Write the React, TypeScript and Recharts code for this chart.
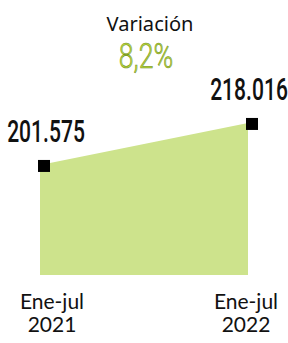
import { Area, AreaChart, XAxis, YAxis } from "recharts"

const periods = ["Ene-jul 2021", "Ene-jul 2022"]
const exports_ = [201575, 218016]
const valueLabels = ["201.575", "218.016"]
const variation = "8,2%"

const data = periods.map((p, i) => ({ period: p, value: exports_[i], label: valueLabels[i] }))

const FILL = "#cde38c"
const NUM_FONT = "Roboto, 'DejaVu Sans Condensed', sans-serif"

// black square marker, a bit off the corner like the print
const SquareDot = (props: any) => {
    const { cx, cy, index } = props
    if (cx == null || cy == null) return null
    return <rect key={`dot-${index}`} x={cx + 4 - 6} y={cy + 1 - 6} width={12} height={12} fill="#000" />
}

// condensed look: squeeze horizontally with a transform
const ValueLabel = (props: any) => {
    const { x, y, index } = props
    const cx = index === 0 ? x + 6 : x + 1
    return (
        <text
            transform={`translate(${cx},${y - 23}) scale(0.68,1)`}
            textAnchor="middle"
            fontFamily={NUM_FONT}
            fontWeight={500}
            fontSize={31}
            fill="#111"
        >
            {valueLabels[index]}
        </text>
    )
}

const PeriodTick = (props: any) => {
    const { x, y, payload, index } = props
    const [a, b] = String(payload.value).split(" ")
    const cx = index === 0 ? x + 12 : x - 2
    return (
        <g>
            <text x={cx} y={y + 26} textAnchor="middle" fontFamily="Lato, 'Open Sans', sans-serif" fontSize={21} fill="#111">
                {a}
            </text>
            <text x={cx} y={y + 49} textAnchor="middle" fontFamily="Lato, 'Open Sans', sans-serif" fontSize={21} fill="#111">
                {b}
            </text>
        </g>
    )
}

export default function App() {
    return (
        <div style={{ position: "absolute", left: 0, top: 0, width: 288, height: 343, background: "#fff" }}>
            <AreaChart width={288} height={343} data={data} margin={{ top: 100, right: 40, bottom: 0, left: 40 }}>
                <XAxis dataKey="period" axisLine={false} tickLine={false} tick={<PeriodTick />} interval={0} height={68} />
                <YAxis hide domain={[158500, 227000]} />
                <Area
                    type="linear"
                    dataKey="value"
                    stroke="none"
                    fill={FILL}
                    fillOpacity={1}
                    dot={<SquareDot />}
                    activeDot={false}
                    label={<ValueLabel />}
                    isAnimationActive={false}
                />
            </AreaChart>
            <svg width={288} height={80} style={{ position: "absolute", left: 0, top: 0 }}>
                <text x={150} y={31} textAnchor="middle" fontFamily="'Noto Sans', sans-serif" fontSize={20} fill="#111" textLength={87} lengthAdjust="spacingAndGlyphs">
                    Variación
                </text>
                <text
                    transform="translate(146,68) scale(0.74,1)"
                    textAnchor="middle"
                    fontFamily={NUM_FONT}
                    fontWeight={300}
                    fontSize={36}
                    fill="#b9d63c"
                    stroke="#6f8f1c"
                    strokeWidth={0.6}
                >
                    {variation}
                </text>
            </svg>
        </div>
    )
}
